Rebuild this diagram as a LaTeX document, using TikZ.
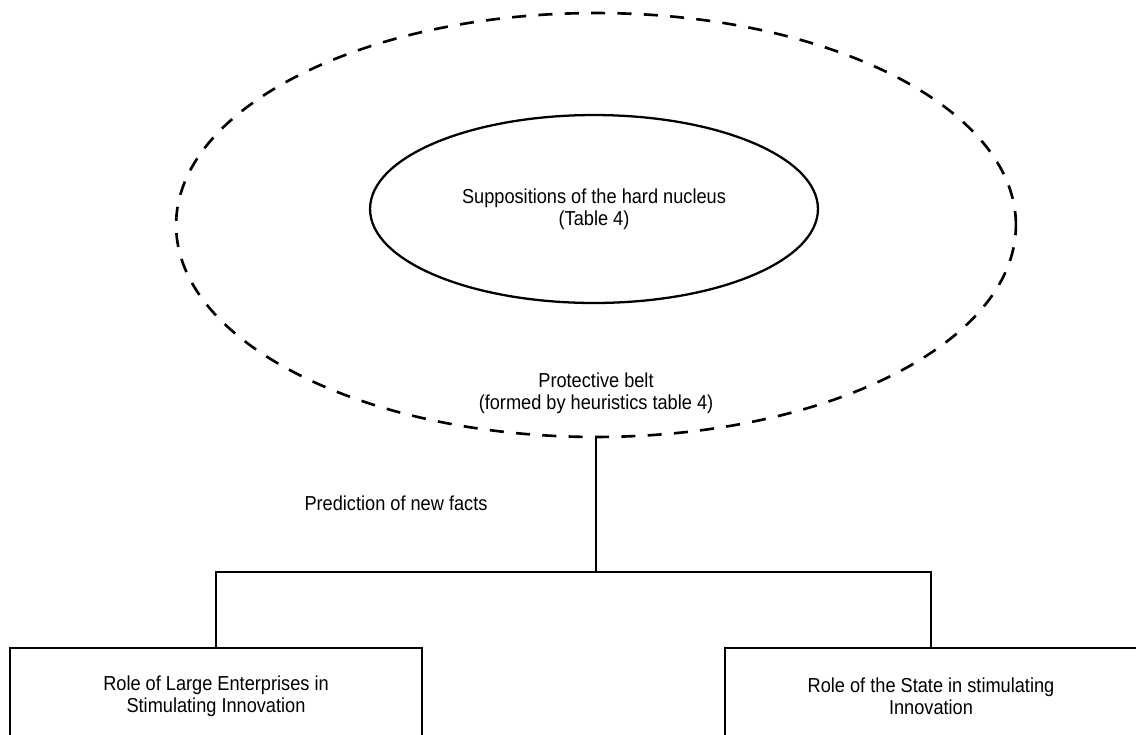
\documentclass[tikz,border=0pt]{standalone}
\usepackage{fontspec}
\setmainfont{Liberation Sans}[FakeStretch=0.9]
\usepackage{tikz}
\usetikzlibrary{positioning, calc, shapes.geometric}

\begin{document}
\begin{tikzpicture}[
    x=0.02cm, y=-0.02cm,
    font=\fontsize{11.5}{12.3}\selectfont,
    belt/.style={ellipse, draw=black, dashed, dash pattern=on 8pt off 7pt, line width=1.5pt, inner sep=0pt, minimum width=16.8cm, minimum height=8.48cm},
    nucleus/.style={ellipse, draw=black, line width=1.3pt, inner sep=0pt, minimum width=8.96cm, minimum height=3.76cm, align=center},
    rolebox/.style={rectangle, draw=black, line width=1.3pt, inner sep=0pt, minimum width=8.24cm, minimum height=3cm, anchor=north},
    boxtext/.style={align=center},
]
\path[use as bounding box, clip] (0,0) rectangle (1136,734);
\node[belt](belt) at (596,225){};
\node[nucleus](nucleus) at (594,209){Suppositions of the hard nucleus\\(Table 4)};
\node[boxtext](beltlabel) at (596,393){Protective belt\\(formed by heuristics table 4)};
\coordinate (fork) at (596,572);
\node[rolebox](large) at (216,647){};
\node[rolebox](state) at (931,647){};
\node[boxtext](largetext) at ($(large.north)+(0,49)$){Role of Large Enterprises in\\Stimulating Innovation};
\node[boxtext](statetext) at ($(state.north)+(0,49)$){Role of the State in stimulating\\Innovation};
\node(predict) at (396,503){Prediction of new facts};
\draw[line width=1.3pt] (belt.south) -- (fork);
\draw[line width=1.3pt] (large.north) |- (fork) -| (state.north);
\end{tikzpicture}
\end{document}
